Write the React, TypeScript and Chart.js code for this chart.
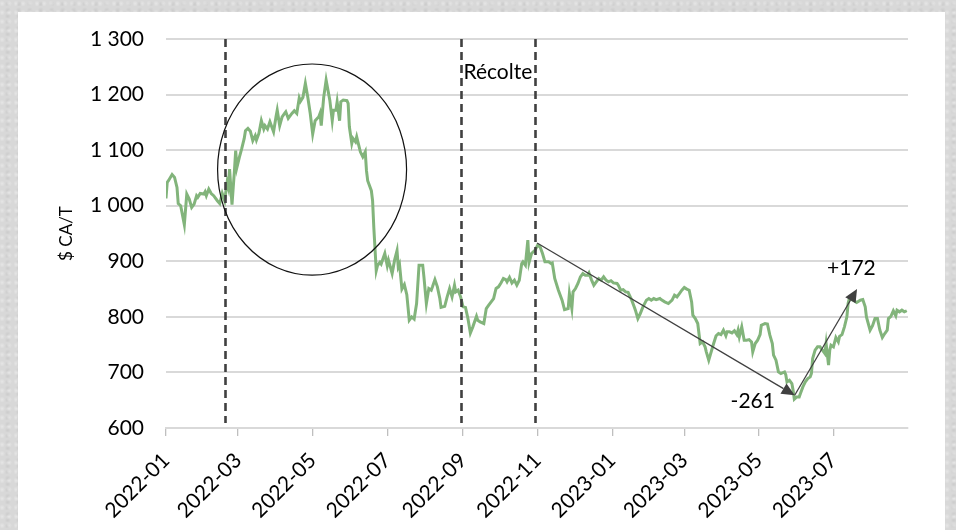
import React, { useEffect, useRef } from 'react';
import { Chart, registerables } from 'chart.js';

Chart.register(...registerables);

// days counted from 2022-01-01
const dayOffsets = [
  0, 1, 2, 5, 7, 9, 10, 12, 15, 17, 19, 21, 23, 25, 26, 28, 31, 32, 33, 35, 37, 39, 42, 44, 46, 48,
  50, 51, 52, 54, 55, 56, 57, 58, 60, 62, 64, 65, 67, 69, 71, 73, 74, 76, 78, 80, 81, 83, 85, 88,
  90, 91, 93, 95, 97, 98, 100, 103, 105, 107, 109, 110, 112, 114, 116, 118, 120, 122, 125, 126, 127,
  129, 131, 133, 134, 136, 137, 139, 140, 142, 143, 145, 148, 149, 150, 152, 153, 155, 156, 157, 159,
  161, 163, 164, 165, 168, 169, 170, 172, 173, 175, 176, 179, 181, 182, 185, 187, 189, 190, 191, 193,
  195, 197, 199, 201, 203, 205, 207, 210, 211, 213, 215, 217, 218, 220, 222, 224, 225, 228, 230, 232,
  234, 236, 237, 239, 241, 243, 245, 247, 249, 251, 254, 255, 257, 260, 262, 264, 266, 268, 270, 272,
  274, 276, 278, 279, 281, 283, 285, 287, 289, 291, 292, 294, 296, 297, 299, 302, 304, 306, 308, 310,
  313, 315, 316, 318, 321, 324, 326, 329, 330, 332, 333, 335, 337, 339, 341, 343, 345, 346, 348, 350,
  352, 354, 356, 358, 360, 362, 364, 366, 369, 370, 372, 374, 376, 378, 381, 383, 384, 386, 388, 390,
  393, 395, 397, 399, 401, 404, 405, 408, 411, 414, 416, 418, 420, 422, 424, 426, 428, 430, 431, 433,
  435, 437, 439, 441, 442, 444, 446, 448, 450, 452, 454, 456, 458, 459, 461, 463, 465, 467, 468, 469,
  471, 473, 475, 477, 479, 480, 482, 484, 486, 487, 490, 492, 494, 496, 497, 499, 501, 503, 506, 507,
  508, 510, 512, 513, 514, 516, 518, 519, 521, 523, 525, 527, 528, 529, 531, 533, 535, 537, 539, 540,
  542, 543, 544, 546, 548, 550, 551, 553, 555, 557, 558, 559, 562, 563, 565, 568, 570, 572, 573, 576,
  578, 580, 582, 584, 586, 588, 590, 591, 593, 595, 597, 598, 600, 602, 604, 606,
];

const prices = [
  1013, 1042, 1045, 1056, 1051, 1033, 1004, 1000, 966, 1021, 1012, 997, 1003, 1018, 1015, 1022, 1021, 1025, 1018, 1030, 1022, 1018, 1009, 1004, 1022, 1009,
  1042, 1033, 1066, 1002, 1033, 1063, 1099, 1069, 1087, 1103, 1121, 1135, 1139, 1134, 1117, 1126, 1118, 1130, 1153, 1138, 1144, 1138, 1151, 1133,
  1160, 1172, 1144, 1160, 1166, 1169, 1157, 1166, 1171, 1166, 1194, 1188, 1195, 1220, 1195, 1166, 1129, 1153, 1160, 1166, 1144,
  1195, 1226, 1202, 1190, 1153, 1172, 1172, 1187, 1153, 1187, 1190, 1189, 1184, 1142, 1112, 1121, 1115, 1124, 1115, 1097,
  1088, 1097, 1063, 1045, 1027, 1009, 961, 883, 892, 898, 895, 914, 892, 902, 878, 902, 919, 890, 895, 850,
  858, 840, 794, 800, 796, 824, 893, 893, 872, 824, 851, 848, 854, 867, 854, 833, 817, 819, 836, 851,
  836, 857, 845, 848, 836, 818, 817, 797, 771, 782, 801, 794, 791, 788, 815, 821, 827, 833, 851, 854,
  861, 869, 867, 863, 871, 861, 866, 857, 866, 896, 899, 893, 938, 898, 914, 920, 929, 926, 914, 899,
  899, 896, 897, 869, 848, 830, 813, 815, 842, 815, 845, 851, 860, 872, 878, 875, 875, 879, 867, 857,
  863, 869, 866, 872, 866, 863, 865, 861, 860, 857, 848, 849, 845, 844, 830, 818, 812, 797, 806, 817,
  830, 833, 830, 833, 831, 833, 831, 827, 824, 830, 839, 836, 842, 848, 853, 850, 848, 827, 803, 797,
  788, 752, 755, 746, 737, 722, 737, 752, 766, 770, 768, 776, 766, 773, 773, 771, 775, 768, 776, 764,
  782, 758, 758, 759, 755, 737, 752, 758, 768, 785, 788, 787, 767, 752, 731, 722, 701, 698, 701, 696,
  683, 686, 680, 668, 652, 656, 656, 662, 674, 683, 689, 692, 698, 725, 740, 746, 746, 740, 734, 752,
  713, 740, 749, 746, 763, 755, 765, 768, 782, 800, 824, 833, 830, 829, 826, 830, 831, 818, 800, 776,
  784, 797, 797, 776, 763, 770, 776, 797, 801, 811, 802, 812, 809, 812, 809, 811,
];

const tickDays = [0, 59, 120, 181, 243, 304, 365, 424, 485, 546];
const tickLabels = ['2022-01', '2022-03', '2022-05', '2022-07', '2022-09', '2022-11', '2023-01', '2023-03', '2023-05', '2023-07'];
const xMin = 0;
const xMax = 607;
const yMin = 600;
const yMax = 1300;
const yStep = 100;
const yTitle = '$ CA/T';

// annotations (data coordinates)
const eventDays = [48, 241, 302];
const eventTop = 1300;
const eventBottom = 609;
const harvestText = 'Récolte';
const harvestDay = 271.5;
const harvestValue = 1240;
const ellipseDay = 119.5;
const ellipseValue = 1065;
const ellipseHalfDays = 77.3;
const ellipseHalfValue = 190;
const arrowDays = [303.6, 514.3, 565.3];
const arrowValues = [933, 659, 850];
const arrowTexts = ['-261', '+172'];
const arrowTextDays = [480, 560.7];
const arrowTextValues = [647.7, 886.7];

const FONT = 'Lato, "Noto Sans", sans-serif';

function formatThousands(v: number): string {
  const s = String(Math.round(v));
  return s.length > 3 ? s.slice(0, s.length - 3) + ' ' + s.slice(s.length - 3) : s;
}

const overlayPlugin = {
  id: 'overlay',
  afterDatasetsDraw(chart: any) {
    const { ctx } = chart;
    const x = chart.scales.x;
    const y = chart.scales.y;
    ctx.save();
    // vertical dashed event lines
    ctx.strokeStyle = '#404040';
    ctx.lineWidth = 2.6;
    ctx.setLineDash([8, 5]);
    eventDays.forEach((d) => {
      const px = Math.round(x.getPixelForValue(d)) + 0.5;
      ctx.beginPath();
      ctx.moveTo(px, y.getPixelForValue(eventTop));
      ctx.lineTo(px, y.getPixelForValue(eventBottom));
      ctx.stroke();
    });
    ctx.setLineDash([]);

    // ellipse
    const cx = x.getPixelForValue(ellipseDay);
    const cy = y.getPixelForValue(ellipseValue);
    const rx = Math.abs(x.getPixelForValue(ellipseDay + ellipseHalfDays) - cx);
    const ry = Math.abs(y.getPixelForValue(ellipseValue + ellipseHalfValue) - cy);
    ctx.beginPath();
    ctx.ellipse(cx, cy, rx, ry, 0, 0, Math.PI * 2);
    ctx.strokeStyle = '#111';
    ctx.lineWidth = 1.2;
    ctx.stroke();

    // arrows
    ctx.strokeStyle = '#404040';
    ctx.fillStyle = '#404040';
    for (let i = 0; i < arrowDays.length - 1; i++) {
      const x0 = x.getPixelForValue(arrowDays[i]);
      const y0 = y.getPixelForValue(arrowValues[i]);
      const x1 = x.getPixelForValue(arrowDays[i + 1]);
      const y1 = y.getPixelForValue(arrowValues[i + 1]);
      const ang = Math.atan2(y1 - y0, x1 - x0);
      const headLen = 13;
      const headW = 6;
      const bx = x1 - headLen * Math.cos(ang);
      const by = y1 - headLen * Math.sin(ang);
      ctx.lineWidth = 1.3;
      ctx.beginPath();
      ctx.moveTo(x0, y0);
      ctx.lineTo(bx, by);
      ctx.stroke();
      ctx.beginPath();
      ctx.moveTo(x1, y1);
      ctx.lineTo(bx + headW * Math.sin(ang), by - headW * Math.cos(ang));
      ctx.lineTo(bx - headW * Math.sin(ang), by + headW * Math.cos(ang));
      ctx.closePath();
      ctx.fill();
    }

    // texts
    ctx.fillStyle = '#000';
    ctx.font = '21px ' + FONT;
    ctx.textAlign = 'center';
    ctx.textBaseline = 'middle';
    ctx.fillText(harvestText, x.getPixelForValue(harvestDay), y.getPixelForValue(harvestValue));
    arrowTexts.forEach((t, i) => {
      ctx.fillText(t, x.getPixelForValue(arrowTextDays[i]), y.getPixelForValue(arrowTextValues[i]));
    });
    ctx.restore();
  },
};

export default function App() {
  const canvasRef = useRef<HTMLCanvasElement | null>(null);

  useEffect(() => {
    if (!canvasRef.current) return;
    const points = dayOffsets.map((d, i) => ({ x: d, y: prices[i] }));
    const chart = new Chart(canvasRef.current, {
      type: 'line',
      data: {
        datasets: [
          {
            data: points,
            borderColor: '#82b47b',
            borderWidth: 3,
            pointRadius: 0,
            tension: 0,
            fill: false,
          },
        ],
      },
      options: {
        animation: false,
        responsive: false,
        maintainAspectRatio: false,
        layout: { padding: { top: 27, right: 37, left: 0, bottom: 0 } },
        plugins: {
          legend: { display: false },
          tooltip: { enabled: false },
        },
        scales: {
          x: {
            type: 'linear',
            min: xMin,
            max: xMax,
            afterBuildTicks: (axis: any) => {
              axis.ticks = tickDays.map((v) => ({ value: v }));
            },
            afterFit: (axis: any) => {
              axis.height = 102;
            },
            ticks: {
              autoSkip: false,
              minRotation: 45,
              maxRotation: 45,
              padding: 12,
              color: '#000',
              font: { family: FONT, size: 21 },
              callback: (value: any) => {
                const idx = tickDays.indexOf(Number(value));
                return idx >= 0 ? tickLabels[idx] : '';
              },
            },
            grid: {
              drawOnChartArea: false,
              drawTicks: true,
              tickLength: 8,
              color: '#bfbfbf',
              lineWidth: 1.3,
            },
            border: { display: true, color: '#d9d9d9', width: 2 },
          },
          y: {
            type: 'linear',
            min: yMin,
            max: yMax,
            afterFit: (axis: any) => {
              axis.width = 148;
            },
            ticks: {
              stepSize: yStep,
              padding: 3,
              color: '#000',
              font: { family: FONT, size: 21 },
              callback: (value: any) => formatThousands(Number(value)),
            },
            grid: {
              drawTicks: true,
              tickLength: 19,
              tickColor: 'rgba(0,0,0,0)',
              color: '#d9d9d9',
              lineWidth: 2,
            },
            border: { display: false },
            title: {
              display: true,
              text: yTitle,
              color: '#000',
              font: { family: FONT, size: 17 },
              padding: { top: 38, bottom: 0 },
            },
          },
        },
      },
      plugins: [overlayPlugin],
    });
    return () => chart.destroy();
  }, []);

  return (
    <div
      style={{
        position: 'fixed',
        left: 0,
        top: 0,
        width: 956,
        height: 530,
        background: '#d8d8d8',
        backgroundImage:
          'radial-gradient(circle at 30% 40%, rgba(255,255,255,0.35) 0px, rgba(255,255,255,0) 3px), radial-gradient(circle at 70% 70%, rgba(0,0,0,0.06) 0px, rgba(0,0,0,0) 3px)',
        backgroundSize: '7px 9px, 11px 6px',
        overflow: 'hidden',
      }}
    >
      <div
        style={{
          position: 'absolute',
          left: 18,
          top: 12,
          width: 927,
          height: 518,
          background: '#ffffff',
        }}
      >
        <canvas ref={canvasRef} width={927} height={518} style={{ display: 'block', width: 927, height: 518 }} />
      </div>
    </div>
  );
}
